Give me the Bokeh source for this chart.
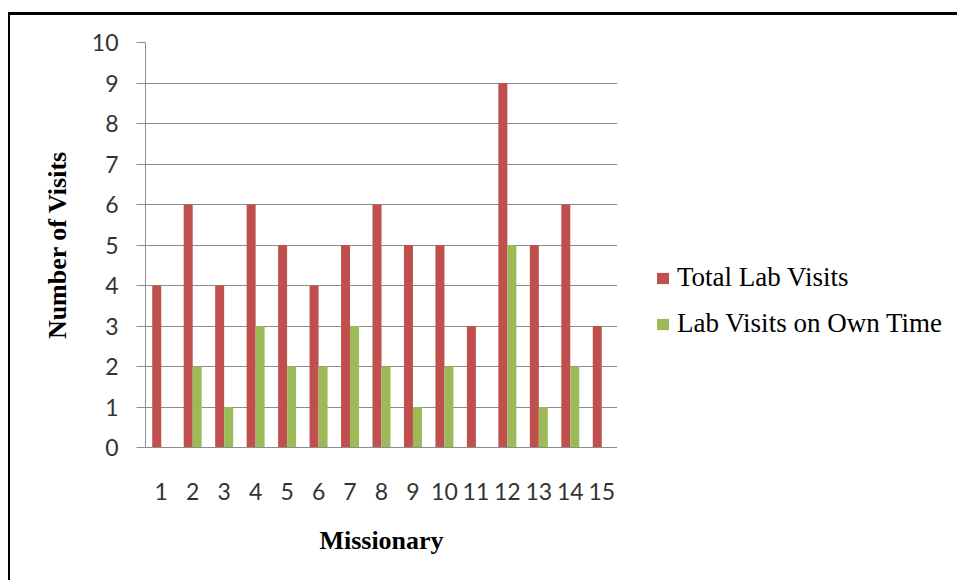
from bokeh.plotting import figure
from bokeh.layouts import row
from bokeh.models import ColumnDataSource, FactorRange, Range1d, Legend, LegendItem, FixedTicker
from bokeh.transform import dodge
from bokeh.embed import file_html
from bokeh.resources import INLINE

missionaries = [str(i) for i in range(1, 16)]
total_visits = [4, 6, 4, 6, 5, 4, 5, 6, 5, 5, 3, 9, 5, 6, 3]
own_time_visits = [0, 2, 1, 3, 2, 2, 3, 2, 1, 2, 0, 5, 1, 2, 0]
y_ticks = [0, 1, 2, 3, 4, 5, 6, 7, 8, 9, 10]
series_names = ["Total Lab Visits", "Lab Visits on Own Time"]
colors = ["#C0504D", "#9BBB59"]

source = ColumnDataSource(dict(m=missionaries, total=total_visits, own=own_time_visits))

p = figure(
    x_range=FactorRange(*missionaries, range_padding=0, factor_padding=0),
    y_range=Range1d(0, 10),
    width=607, height=565,
    output_backend="svg", toolbar_location=None,
    min_border_left=135, min_border_top=27, min_border_right=0, min_border_bottom=133,
)

bw = 0.286
p.vbar(x=dodge("m", -bw / 2, range=p.x_range), top="total", width=bw, source=source,
       fill_color=colors[0], line_color=None)
p.vbar(x=dodge("m", bw / 2, range=p.x_range), top="own", width=bw, source=source,
       fill_color=colors[1], line_color=None)

p.outline_line_color = None
p.xgrid.grid_line_color = None
p.ygrid.grid_line_color = "#8c8c8c"
p.ygrid.grid_line_width = 1

p.yaxis.ticker = FixedTicker(ticks=y_ticks)
p.yaxis.axis_line_color = "#8c8c8c"
p.yaxis.major_tick_line_color = "#8c8c8c"
p.yaxis.major_tick_out = 9
p.yaxis.major_tick_in = 0
p.yaxis.minor_tick_line_color = None
p.yaxis.major_label_standoff = 18
p.yaxis.major_label_text_font = "Lato"
p.yaxis.major_label_text_font_size = "23px"
p.yaxis.major_label_text_color = "#333333"
p.yaxis.axis_label = "Number of Visits"
p.yaxis.axis_label_text_font = "Liberation Serif"
p.yaxis.axis_label_text_font_style = "bold"
p.yaxis.axis_label_text_font_size = "26px"
p.yaxis.axis_label_text_color = "black"
p.yaxis.axis_label_standoff = 17

p.xaxis.axis_line_color = "#8c8c8c"
p.xaxis.major_tick_line_color = None
p.xaxis.major_label_standoff = 29
p.xaxis.major_label_text_font = "Lato"
p.xaxis.major_label_text_font_size = "23px"
p.xaxis.major_label_text_color = "#333333"
p.xaxis.axis_label = "Missionary"
p.xaxis.axis_label_text_font = "Liberation Serif"
p.xaxis.axis_label_text_font_style = "bold"
p.xaxis.axis_label_text_font_size = "26px"
p.xaxis.axis_label_text_color = "black"
p.xaxis.axis_label_standoff = 23

# Legend panel: same series styles as zero-height bars, so only the legend keys show
lp = figure(
    x_range=FactorRange(*missionaries), y_range=Range1d(0, 10),
    width=340, height=565, output_backend="svg", toolbar_location=None,
    x_axis_type=None, y_axis_type=None,
    min_border_left=0, min_border_right=0, min_border_top=0, min_border_bottom=0,
)
lp.outline_line_color = None
lp.xgrid.grid_line_color = None
lp.ygrid.grid_line_color = None
l1 = lp.vbar(x=dodge("m", -bw / 2, range=lp.x_range), bottom="total", top="total", width=bw,
             source=source, fill_color=colors[0], line_color=None)
l2 = lp.vbar(x=dodge("m", bw / 2, range=lp.x_range), bottom="own", top="own", width=bw,
             source=source, fill_color=colors[1], line_color=None)

legend = Legend(
    items=[LegendItem(label=series_names[0], renderers=[l1]),
           LegendItem(label=series_names[1], renderers=[l2])],
    location=(38, 108),
    glyph_width=15, glyph_height=14, label_standoff=7, spacing=15,
    padding=0, margin=0, border_line_color=None, background_fill_alpha=0,
    label_text_font="Liberation Serif", label_text_font_size="27px", label_text_color="black",
)
lp.add_layout(legend, "center")

layout = row(p, lp)
layout.styles = {"margin-left": "8px", "margin-top": "12px",
                 "border-top": "3px solid black", "border-left": "2px solid black"}

open("out.html", "w").write(file_html(layout, INLINE))
